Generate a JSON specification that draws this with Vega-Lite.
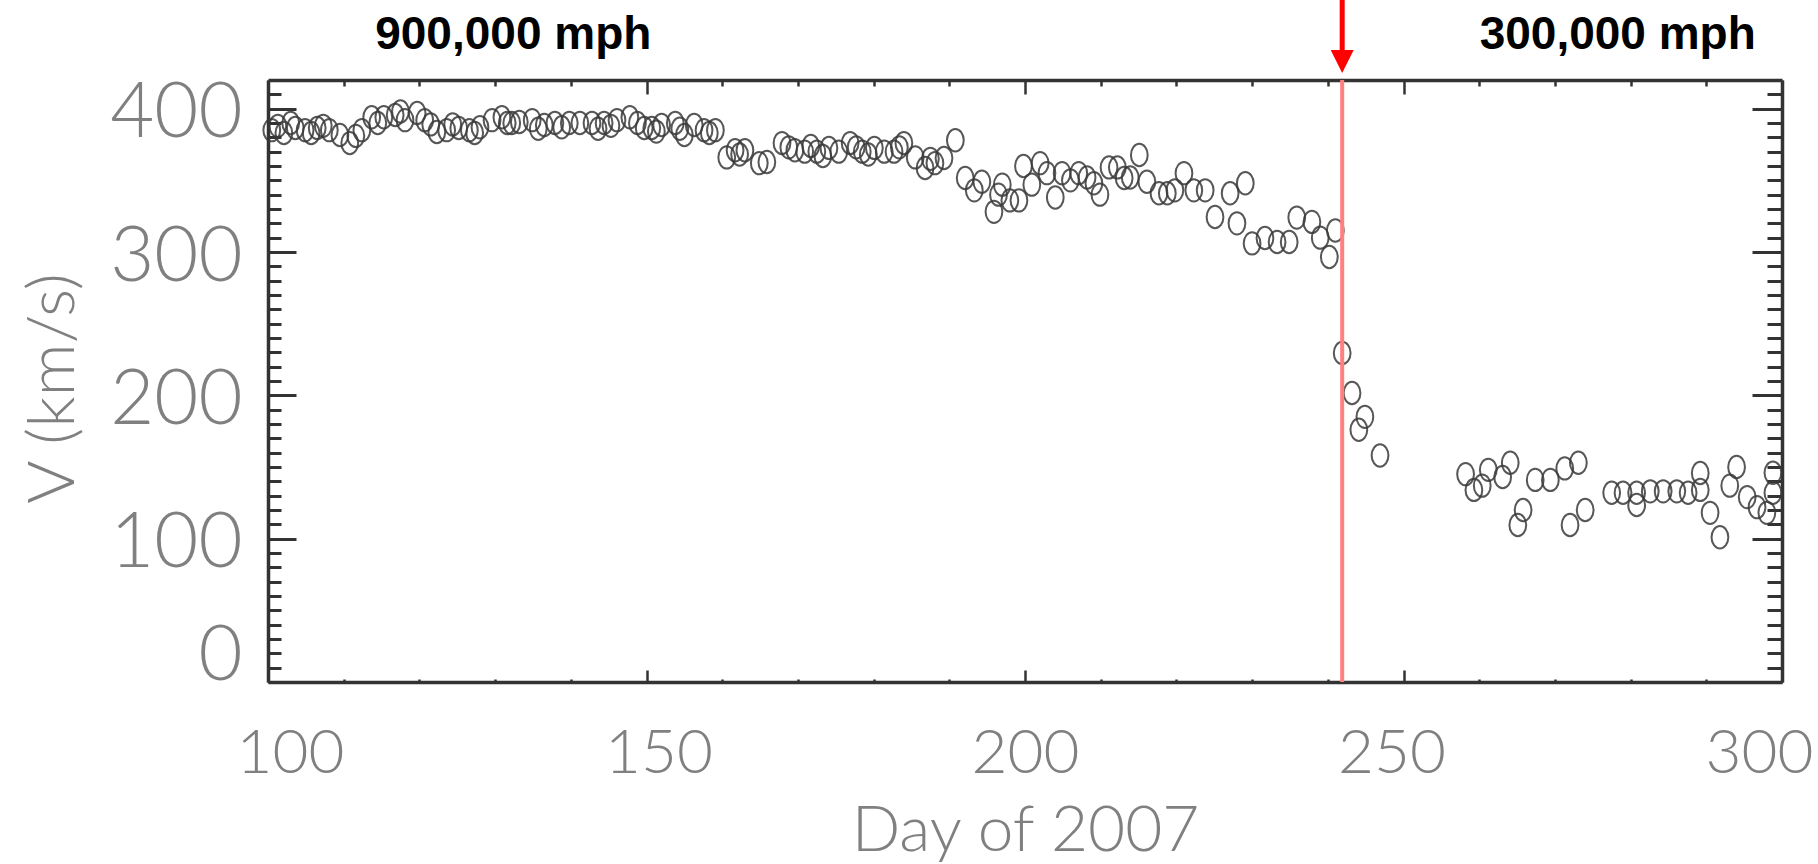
{
  "$schema": "https://vega.github.io/schema/vega-lite/v6.json",
  "width": 1514,
  "height": 602,
  "autosize": {"type": "none"},
  "padding": {"left": 268, "top": 80, "right": 36, "bottom": 182},
  "background": "white",
  "config": {"view": {"stroke": null}, "axis": {"grid": false}},
  "datasets": {
    "speed": [
      {"day": 100.5, "v": 385}, {"day": 101.3, "v": 388}, {"day": 102.1, "v": 383}, {"day": 103.0, "v": 390}, {"day": 103.6, "v": 386.5},
      {"day": 104.9, "v": 385}, {"day": 105.7, "v": 383}, {"day": 106.5, "v": 386.5}, {"day": 107.3, "v": 388}, {"day": 108.1, "v": 385},
      {"day": 109.5, "v": 381.6}, {"day": 110.8, "v": 376}, {"day": 111.6, "v": 381}, {"day": 112.4, "v": 385},
      {"day": 113.7, "v": 394}, {"day": 114.5, "v": 390}, {"day": 115.3, "v": 394}, {"day": 116.8, "v": 395.6}, {"day": 117.5, "v": 398}, {"day": 118.1, "v": 392},
      {"day": 119.7, "v": 397}, {"day": 120.7, "v": 392}, {"day": 121.5, "v": 389}, {"day": 122.3, "v": 383.7},
      {"day": 123.6, "v": 385}, {"day": 124.4, "v": 389}, {"day": 125.2, "v": 386.5}, {"day": 126.6, "v": 385}, {"day": 127.3, "v": 383}, {"day": 128.0, "v": 387},
      {"day": 129.6, "v": 392}, {"day": 130.9, "v": 394}, {"day": 131.6, "v": 390}, {"day": 132.2, "v": 390}, {"day": 133.2, "v": 390.7},
      {"day": 134.9, "v": 392}, {"day": 135.7, "v": 386}, {"day": 136.5, "v": 388.6}, {"day": 137.9, "v": 390}, {"day": 138.8, "v": 387}, {"day": 139.8, "v": 390},
      {"day": 141.2, "v": 390}, {"day": 142.8, "v": 390}, {"day": 143.6, "v": 386}, {"day": 144.4, "v": 390}, {"day": 145.3, "v": 388}, {"day": 146.1, "v": 392},
      {"day": 147.8, "v": 394}, {"day": 148.8, "v": 390}, {"day": 149.7, "v": 386.5}, {"day": 150.7, "v": 386.5}, {"day": 151.3, "v": 384}, {"day": 152.0, "v": 388.6},
      {"day": 153.8, "v": 390}, {"day": 154.4, "v": 386}, {"day": 155.0, "v": 381.6}, {"day": 156.3, "v": 388.6}, {"day": 157.6, "v": 385},
      {"day": 158.3, "v": 383}, {"day": 159.1, "v": 385}, {"day": 160.6, "v": 366}, {"day": 161.7, "v": 371}, {"day": 162.3, "v": 368}, {"day": 163.0, "v": 371},
      {"day": 164.9, "v": 362}, {"day": 165.9, "v": 362.8}, {"day": 167.9, "v": 376}, {"day": 168.8, "v": 373}, {"day": 169.6, "v": 371},
      {"day": 170.9, "v": 370}, {"day": 171.7, "v": 374}, {"day": 172.5, "v": 370}, {"day": 173.3, "v": 367}, {"day": 174.1, "v": 372.6}, {"day": 175.4, "v": 370},
      {"day": 176.9, "v": 376}, {"day": 177.7, "v": 373}, {"day": 178.5, "v": 370}, {"day": 179.3, "v": 368}, {"day": 180.1, "v": 372.6}, {"day": 181.4, "v": 370},
      {"day": 182.7, "v": 370}, {"day": 183.4, "v": 373}, {"day": 184.0, "v": 376}, {"day": 185.5, "v": 366}, {"day": 186.8, "v": 358.6},
      {"day": 187.5, "v": 365}, {"day": 188.1, "v": 362}, {"day": 189.3, "v": 365.6}, {"day": 190.8, "v": 378}, {"day": 192.1, "v": 351.6},
      {"day": 193.3, "v": 343}, {"day": 194.3, "v": 349}, {"day": 195.9, "v": 328}, {"day": 196.5, "v": 340}, {"day": 197.0, "v": 347},
      {"day": 198.0, "v": 336}, {"day": 199.2, "v": 336}, {"day": 199.8, "v": 360}, {"day": 200.9, "v": 347},
      {"day": 202.0, "v": 362}, {"day": 202.9, "v": 355}, {"day": 204.0, "v": 338}, {"day": 204.9, "v": 355},
      {"day": 206.0, "v": 350}, {"day": 207.1, "v": 355}, {"day": 208.2, "v": 352}, {"day": 209.1, "v": 348},
      {"day": 209.9, "v": 340}, {"day": 211.1, "v": 359}, {"day": 212.2, "v": 359}, {"day": 213.1, "v": 351.6},
      {"day": 213.9, "v": 352}, {"day": 215.1, "v": 367.7}, {"day": 216.1, "v": 349}, {"day": 217.7, "v": 341},
      {"day": 218.8, "v": 341}, {"day": 219.8, "v": 343}, {"day": 221.0, "v": 355}, {"day": 222.3, "v": 343},
      {"day": 223.8, "v": 343}, {"day": 225.1, "v": 324.4}, {"day": 227.1, "v": 341}, {"day": 228.0, "v": 320},
      {"day": 229.1, "v": 348}, {"day": 230.0, "v": 306}, {"day": 231.7, "v": 309.8}, {"day": 233.3, "v": 307},
      {"day": 234.9, "v": 307}, {"day": 235.9, "v": 324}, {"day": 237.9, "v": 321}, {"day": 239.0, "v": 310},
      {"day": 240.2, "v": 296.5}, {"day": 241.0, "v": 315}, {"day": 241.9, "v": 229.5}, {"day": 243.2, "v": 201.6},
      {"day": 244.1, "v": 176}, {"day": 244.9, "v": 185}, {"day": 246.9, "v": 158},
      {"day": 258.2, "v": 145}, {"day": 259.3, "v": 134}, {"day": 260.4, "v": 137}, {"day": 261.2, "v": 148},
      {"day": 263.1, "v": 143}, {"day": 264.1, "v": 153}, {"day": 265.1, "v": 109.5}, {"day": 265.8, "v": 120},
      {"day": 267.4, "v": 141}, {"day": 269.4, "v": 141}, {"day": 271.3, "v": 149}, {"day": 272.0, "v": 109.5},
      {"day": 273.1, "v": 153}, {"day": 274.0, "v": 120}, {"day": 277.5, "v": 132}, {"day": 279.0, "v": 132},
      {"day": 280.8, "v": 132}, {"day": 280.8, "v": 123.5}, {"day": 282.6, "v": 133}, {"day": 284.3, "v": 133},
      {"day": 286.1, "v": 133}, {"day": 287.6, "v": 132}, {"day": 289.2, "v": 145.8}, {"day": 289.2, "v": 134},
      {"day": 290.5, "v": 118}, {"day": 291.8, "v": 101}, {"day": 293.1, "v": 137}, {"day": 294.0, "v": 150},
      {"day": 295.4, "v": 129}, {"day": 296.7, "v": 122}, {"day": 298.0, "v": 118}, {"day": 298.8, "v": 146},
      {"day": 298.8, "v": 132}
    ],
    "notes": [
      {"day": 132.4, "v": 441.3, "label": "900,000 mph"},
      {"day": 278.3, "v": 441.3, "label": "300,000 mph"}
    ],
    "event": [{"day": 241.9}],
    "arrow": [{"day": 241.9, "top": 480, "bottom": 439.5, "head": 432.9}]
  },
  "layer": [
    {
      "data": {"name": "speed"},
      "mark": {
        "type": "point",
        "shape": "M 0.75 0 C 0.75 0.5523 0.4142 1 0 1 C -0.4142 1 -0.75 0.5523 -0.75 0 C -0.75 -0.5523 -0.4142 -1 0 -1 C 0.4142 -1 0.75 -0.5523 0.75 0 Z",
        "size": 500,
        "filled": false,
        "stroke": "#3a3a3a",
        "strokeWidth": 2,
        "opacity": 0.85
      },
      "encoding": {
        "x": {
          "field": "day", "type": "quantitative",
          "scale": {"domain": [100, 300], "nice": false, "zero": false},
          "axis": {
            "orient": "bottom",
            "values": [100,110,120,130,140,150,160,170,180,190,200,210,220,230,240,250,260,270,280,290,300],
            "domainColor": "#333", "domainWidth": 3.5,
            "tickColor": "#333", "tickWidth": 2.5,
            "tickSize": {"condition": {"test": "datum.value % 50 === 0", "value": -12}, "value": -3},
            "labelExpr": "datum.value % 50 === 0 ? datum.label : ''",
            "labelFont": "Lato", "labelFontWeight": 300, "labelFontSize": 62, "labelColor": "#808080",
            "labelPadding": 53, "labelBaseline": "top", "labelAlign": "center",
            "labelOffset": {"condition": [
              {"test": "datum.value === 100", "value": 22},
              {"test": "datum.value === 150", "value": 12},
              {"test": "datum.value === 250", "value": -12},
              {"test": "datum.value === 300", "value": -23}
            ], "value": 0},
            "labelFlush": false, "labelOverlap": false, "labelBound": false,
            "title": "Day of 2007",
            "titleFont": "Lato", "titleFontWeight": 300, "titleFontSize": 64, "titleColor": "#808080",
            "titleX": 757, "titleY": 168, "titleBaseline": "alphabetic", "titleAlign": "center"
          }
        },
        "y": {
          "field": "v", "type": "quantitative",
          "scale": {"domain": [0, 420], "nice": false, "zero": false},
          "axis": {
            "orient": "left",
            "values": [0,10,20,30,40,50,60,70,80,90,100,110,120,130,140,150,160,170,180,190,200,210,220,230,240,250,260,270,280,290,300,310,320,330,340,350,360,370,380,390,400,410],
            "domainColor": "#333", "domainWidth": 3.5,
            "tickColor": "#333", "tickWidth": 3,
            "tickSize": {"condition": {"test": "datum.value % 100 === 0", "value": -28}, "value": -13},
            "labelExpr": "datum.value % 100 === 0 ? datum.label : ''",
            "labelFont": "Lato", "labelFontWeight": 300, "labelFontSize": 76, "labelColor": "#808080",
            "labelAlign": "right", "labelBaseline": "middle", "labelPadding": 54,
            "labelOffset": {"condition": {"test": "datum.value === 0", "value": -26}, "value": 5},
            "labelFlush": false, "labelOverlap": false, "labelBound": false,
            "title": "V (km/s)",
            "titleFont": "Lato", "titleFontWeight": 300, "titleFontSize": 66, "titleColor": "#808080",
            "titleAngle": -90, "titleX": -195, "titleY": 308, "titleBaseline": "alphabetic", "titleAlign": "center"
          }
        }
      }
    },
    {
      "data": {"name": "event"},
      "mark": {"type": "rule", "stroke": "#ff8080", "strokeWidth": 4},
      "encoding": {"x": {"field": "day", "type": "quantitative", "axis": null}}
    },
    {
      "data": {"name": "notes"},
      "mark": {"type": "text", "font": "Liberation Sans", "fontWeight": "bold", "fontSize": 46, "baseline": "alphabetic", "align": "center", "color": "#000000"},
      "encoding": {
        "x": {
          "field": "day", "type": "quantitative",
          "axis": {
            "orient": "top",
            "values": [100,110,120,130,140,150,160,170,180,190,200,210,220,230,240,250,260,270,280,290,300],
            "domainColor": "#333", "domainWidth": 3.5,
            "tickColor": "#333", "tickWidth": 2.5,
            "tickSize": {"condition": {"test": "datum.value % 50 === 0", "value": -14}, "value": -6},
            "labels": false, "title": null
          }
        },
        "y": {
          "field": "v", "type": "quantitative",
          "axis": {
            "orient": "right",
            "values": [0,10,20,30,40,50,60,70,80,90,100,110,120,130,140,150,160,170,180,190,200,210,220,230,240,250,260,270,280,290,300,310,320,330,340,350,360,370,380,390,400,410],
            "domainColor": "#333", "domainWidth": 3.5,
            "tickColor": "#333", "tickWidth": 3,
            "tickSize": {"condition": {"test": "datum.value % 100 === 0", "value": -30}, "value": -15},
            "labels": false, "title": null
          }
        },
        "text": {"field": "label", "type": "nominal"}
      }
    },
    {
      "data": {"name": "arrow"},
      "mark": {"type": "rule", "stroke": "#ff0000", "strokeWidth": 5},
      "encoding": {
        "x": {"field": "day", "type": "quantitative", "axis": null},
        "y": {"field": "top", "type": "quantitative", "axis": null},
        "y2": {"field": "bottom"}
      }
    },
    {
      "data": {"name": "arrow"},
      "mark": {"type": "point", "shape": "M -1 -1 L 1 -1 L 0 1 Z", "size": 529, "filled": true, "fill": "#ff0000", "strokeWidth": 0, "opacity": 1},
      "encoding": {
        "x": {"field": "day", "type": "quantitative", "axis": null},
        "y": {"field": "head", "type": "quantitative", "axis": null}
      }
    }
  ],
  "resolve": {"axis": {"x": "independent", "y": "independent"}}
}
